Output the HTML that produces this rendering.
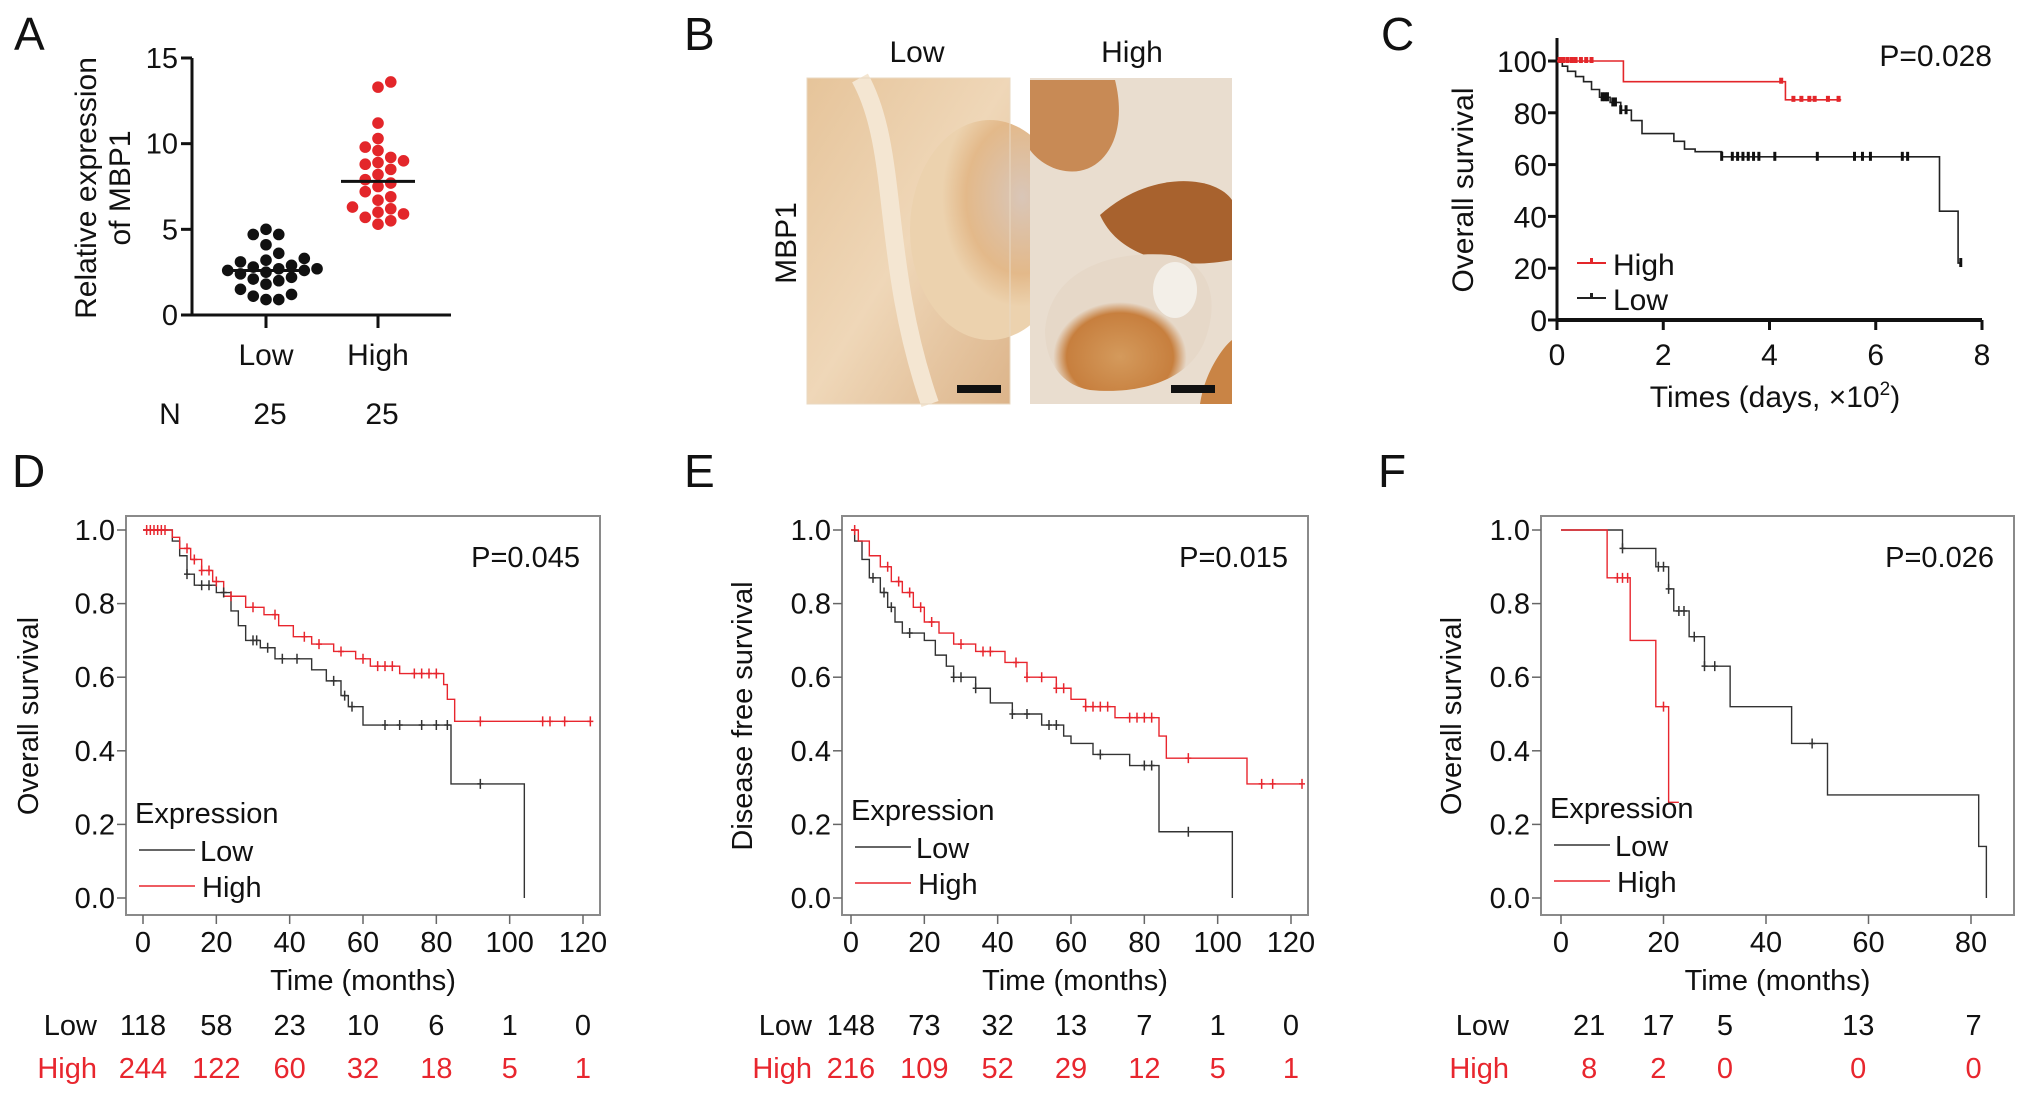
<!DOCTYPE html>
<html><head><meta charset="utf-8"><style>
html,body{margin:0;padding:0;background:#fff}
svg{display:block;font-family:"Liberation Sans",Arial,sans-serif}
</style></head><body>
<svg id="fig" width="2032" height="1099" viewBox="0 0 2032 1099" xmlns="http://www.w3.org/2000/svg">
<defs>
<radialGradient id="lowA" cx="0.7" cy="0.35" r="0.5"><stop offset="0" stop-color="#d9c6b8"/><stop offset="0.7" stop-color="#e3b98a"/><stop offset="1" stop-color="#ecd2ae"/></radialGradient>
<linearGradient id="lowB" x1="0" y1="0" x2="1" y2="1"><stop offset="0" stop-color="#e6c49a"/><stop offset="0.5" stop-color="#efd7b8"/><stop offset="1" stop-color="#dcb48a"/></linearGradient>
<radialGradient id="hiA" cx="0.45" cy="0.75" r="0.4"><stop offset="0" stop-color="#d49a5c"/><stop offset="0.8" stop-color="#c77f3e"/><stop offset="1" stop-color="#e6d8c8"/></radialGradient>
</defs>
<g id="panels"></g>
</svg>
<script>
// ---------- DATA ----------
const aCategories = ["Low","High"];
const aLowValues = [5.0,4.7,4.7,4.1,3.6,3.3,3.2,3.1,2.9,2.8,2.7,2.7,2.6,2.6,2.5,2.4,2.2,2.1,2.0,1.8,1.5,1.2,1.1,0.9,0.9];
const aHighValues = [13.6,13.3,11.2,10.3,9.8,9.6,9.2,9.0,8.9,8.8,8.5,8.2,7.9,7.7,7.5,7.2,6.9,6.7,6.3,6.2,6.0,5.9,5.7,5.5,5.3];
const aMeans = [2.6,7.8];
const aTicks = [0,5,10,15];
const aN = ["25","25"];

const cTicksY = [0,20,40,60,80,100];
const cTicksX = [0,2,4,6,8];
const cHighEvents = [[1.25,92],[4.3,85]];
const cHighEnd = 5.35;
const cHighCensor = [0.05,0.12,0.2,0.28,0.35,0.45,0.55,0.65,4.22,4.45,4.6,4.75,4.85,5.1,5.3];
const cLowEvents = [[0.1,98],[0.2,96],[0.35,94],[0.5,92],[0.65,89],[0.8,86],[1.0,84],[1.2,81],[1.4,77],[1.6,72],[2.2,69],[2.4,66],[2.6,65],[3.1,63],[7.2,42],[7.55,22]];
const cLowEnd = 7.62;
const cLowCensor = [0.85,0.9,0.95,1.05,1.1,1.2,1.3,3.1,3.3,3.4,3.5,3.6,3.7,3.8,4.1,4.9,5.6,5.75,5.9,6.5,6.6,7.6];

const dTicksX = [0,20,40,60,80,100,120];
const dTicksY = [0,0.2,0.4,0.6,0.8,1.0];
const dLowEvents = [[8,0.97],[10,0.93],[12,0.88],[14,0.85],[20,0.83],[24,0.78],[26,0.74],[28,0.70],[32,0.68],[36,0.65],[46,0.62],[50,0.59],[54,0.55],[56,0.52],[60,0.47],[84,0.31],[104,0]];
const dLowEnd = 104;
const dLowCensor = [12,16,18,22,30,31,34,38,42,52,55,57,66,70,76,80,83,92];
const dHighEvents = [[8,0.98],[10,0.95],[13,0.92],[16,0.89],[19,0.86],[22,0.82],[28,0.79],[33,0.77],[37,0.74],[41,0.71],[46,0.69],[52,0.67],[58,0.65],[62,0.63],[70,0.61],[82,0.58],[83,0.54],[85,0.48]];
const dHighEnd = 122;
const dHighCensor = [1,2,3,4,5,6,12,14,16,18,20,24,30,36,44,48,54,60,64,66,68,74,76,78,80,92,109,111,115,122];
const dRiskLow = ["118","58","23","10","6","1","0"];
const dRiskHigh = ["244","122","60","32","18","5","1"];

const eTicksX = [0,20,40,60,80,100,120];
const eLowEvents = [[1,0.97],[3,0.92],[5,0.87],[8,0.83],[10,0.79],[12,0.75],[14,0.72],[20,0.70],[23,0.66],[26,0.63],[28,0.60],[34,0.57],[38,0.53],[44,0.50],[52,0.47],[58,0.44],[60,0.42],[66,0.39],[76,0.36],[84,0.18],[104,0]];
const eLowEnd = 104;
const eLowCensor = [6,9,11,16,28,30,34,44,48,54,56,68,80,82,92];
const eHighEvents = [[2,0.97],[5,0.93],[8,0.90],[11,0.86],[14,0.83],[17,0.79],[20,0.75],[24,0.72],[28,0.69],[34,0.67],[42,0.64],[48,0.60],[56,0.57],[60,0.54],[64,0.52],[72,0.49],[84,0.44],[86,0.38],[108,0.31]];
const eHighEnd = 123;
const eHighCensor = [1,10,13,16,19,22,30,36,38,45,48,52,56,58,64,66,68,70,76,78,80,82,92,112,115,123];
const eRiskLow = ["148","73","32","13","7","1","0"];
const eRiskHigh = ["216","109","52","29","12","5","1"];

const fTicksX = [0,20,40,60,80];
const fLowEvents = [[12,0.95],[18.5,0.90],[21,0.84],[22,0.78],[25,0.71],[28,0.63],[33,0.52],[45,0.42],[52,0.28],[81.5,0.14],[83,0]];
const fLowEnd = 83;
const fLowCensor = [12,19,20,21,23,24,26,28,30,49];
const fHighEvents = [[9,0.87],[13.5,0.70],[18.5,0.52],[21,0.26]];
const fHighEnd = 23;
const fHighCensor = [11,12,13,20];
const fRiskLow = ["21","17","5","13","7"];
const fRiskHigh = ["8","2","0","0","0"];
const fRiskX = [5.5,19,32,58,80.5];

// ---------- HELPERS ----------
const NS = "http://www.w3.org/2000/svg";
const root = document.getElementById('panels');
function el(tag, attrs, parent, text){
  const e = document.createElementNS(NS, tag);
  for (const k in attrs) e.setAttribute(k, attrs[k]);
  if (text !== undefined) e.textContent = text;
  (parent || root).appendChild(e);
  return e;
}
function group(name){
  const g = el('g', {});
  
  
  return g;
}
function lin(d0,d1,r0,r1){ return v => r0 + (v-d0)/(d1-d0)*(r1-r0); }
function kmPath(events, end, xs, ys, top){
  let d = `M${xs(0)},${ys(top)}`;
  for (const [t,s] of events){ d += ` H${xs(t)} V${ys(s)}`; }
  d += ` H${xs(end)}`;
  return d;
}
function survAt(events, t, top){
  let s = top;
  for (const [et,es] of events){ if (et <= t) s = es; }
  return s;
}
function label(g, txt, x, y, size, anchor, fill, name){
  const t = el('text', {x:x, y:y, 'font-size':size, 'text-anchor':anchor||'start', fill:fill||'#111'}, g, txt);
  
  
  return t;
}

// ---------- PANEL LETTERS ----------
const letters = [["A",14,50],["B",684,50],["C",1381,50],["D",12,487],["E",684,487],["F",1378,487]];
const lg = group('panel-letters');
letters.forEach(l => label(lg, l[0], l[1], l[2], 46, 'start', '#111', 'panel-letter-' + l[0].toLowerCase()));

// ---------- PANEL A ----------
(function(){
  const g = group('panel-a-dot-plot');
  const ys = lin(0,15,315,58);
  const xc = [266,378];
  el('line',{x1:192,y1:ys(15),x2:192,y2:ys(0),stroke:'#111','stroke-width':3},g);
  el('line',{x1:181,y1:315,x2:451,y2:315,stroke:'#111','stroke-width':3},g);
  aTicks.forEach(v=>{
    el('line',{x1:181,y1:ys(v),x2:192,y2:ys(v),stroke:'#111','stroke-width':3},g);
    label(g, String(v), 178, ys(v)+10, 29, 'end', '#111', 'y-tick-label');
  });
  xc.forEach((x,i)=>{
    el('line',{x1:x,y1:315,x2:x,y2:328,stroke:'#111','stroke-width':3},g);
    label(g, aCategories[i], x, 365, 30, 'middle', '#111', 'x-category-label');
    label(g, aN[i], x+4, 424, 30, 'middle', '#111', 'n-count');
  });
  label(g, 'N', 170, 424, 30, 'middle', '#111', 'n-label');
  const yt = el('text',{transform:'translate(96,188) rotate(-90)','font-size':30,'text-anchor':'middle',fill:'#111'},g);
  
  
  el('tspan',{x:0,dy:0},yt,'Relative expression');
  el('tspan',{x:0,dy:34},yt,'of MBP1');
  function swarm(vals, cx, color, name){
    const placed = [];
    const r = 5.8;
    vals.slice().sort((a,b)=>a-b).forEach(v=>{
      const y = ys(v);
      let off = 0, k = 0;
      while (true){
        const cand = k===0?0:(k%2?1:-1)*Math.ceil(k/2)*2.2*r;
        const ok = placed.every(p => Math.hypot(p[0]-(cx+cand), p[1]-y) >= 2*r);
        if (ok){ off = cand; break; }
        k++;
      }
      placed.push([cx+off,y]);
      const c = el('circle',{cx:cx+off,cy:y,r:r,fill:color},g);
      
      
    });
  }
  swarm(aLowValues, xc[0], '#111', 'low-point');
  swarm(aHighValues, xc[1], '#e3262a', 'high-point');
  aMeans.forEach((m,i)=>{
    const ml = el('line',{x1:xc[i]-37,x2:xc[i]+37,y1:ys(m),y2:ys(m),stroke:'#111','stroke-width':3},g);
    
    
  });
})();

// ---------- PANEL B (histology) ----------
(function(){
  const g = group('panel-b-histology');
  label(g,'Low',917,62,30,'middle','#111','low-image-title');
  label(g,'High',1132,62,30,'middle','#111','high-image-title');
  const mt = el('text',{transform:'translate(796,243) rotate(-90)','font-size':30,'text-anchor':'middle',fill:'#111'},g,'MBP1');
  
  
  const li = el('g',{},g);  
  el('rect',{x:807,y:78,width:203,height:326,fill:'url(#lowB)'},li);
  el('ellipse',{cx:990,cy:230,rx:80,ry:110,fill:'url(#lowA)'},li);
  el('path',{d:'M860,78 C900,150 880,260 930,404',stroke:'#f4e6d2','stroke-width':18,fill:'none'},li);
  el('rect',{x:807,y:78,width:203,height:326,fill:'none',stroke:'#e9d8c2','stroke-width':1},li);
  el('rect',{x:957,y:385,width:44,height:8,fill:'#111'},li);
  const hi = el('g',{},g);  
  el('rect',{x:1030,y:78,width:202,height:326,fill:'#e9ddcf'},hi);
  el('path',{d:'M1030,80 L1115,80 C1130,140 1100,180 1060,170 C1040,165 1030,150 1030,150 Z',fill:'#c88a55'},hi);
  el('path',{d:'M1100,215 C1150,170 1215,175 1232,200 L1232,260 C1180,270 1120,260 1100,215 Z',fill:'#a8622e'},hi);
  el('path',{d:'M1045,330 C1050,270 1110,250 1170,255 C1210,262 1220,300 1205,340 C1190,380 1140,395 1090,390 C1060,385 1045,360 1045,330 Z',fill:'url(#hiA)'},hi);
  el('ellipse',{cx:1175,cy:290,rx:22,ry:28,fill:'#f3efe8'},hi);
  el('path',{d:'M1200,404 C1205,370 1225,345 1232,340 L1232,404 Z',fill:'#c98445'},hi);
  el('rect',{x:1171,y:385,width:44,height:8,fill:'#111'},hi);
})();

// ---------- PANEL C ----------
(function(){
  const g = group('panel-c-km-plot');
  const xs = lin(0,8,1557,1982), ys = lin(0,100,320,61);
  el('line',{x1:1557,y1:38,x2:1557,y2:321,stroke:'#111','stroke-width':3},g);
  el('line',{x1:1556,y1:320,x2:1982,y2:320,stroke:'#111','stroke-width':4},g);
  cTicksY.forEach(v=>{
    el('line',{x1:1548,y1:ys(v),x2:1557,y2:ys(v),stroke:'#111','stroke-width':3},g);
    label(g,String(v),1547,ys(v)+11,30,'end','#111','y-tick-label');
  });
  cTicksX.forEach(v=>{
    el('line',{x1:xs(v),y1:320,x2:xs(v),y2:330,stroke:'#111','stroke-width':3},g);
    label(g,String(v),xs(v),365,30,'middle','#111','x-tick-label');
  });
  const xt = el('text',{x:1775,y:407,'font-size':30,'text-anchor':'middle',fill:'#111'},g);
   
  xt.appendChild(document.createTextNode('Times (days, \u00d710'));
  el('tspan',{dy:-12,'font-size':19},xt,'2');
  el('tspan',{dy:12},xt,')');
  const yt = el('text',{transform:'translate(1473,190) rotate(-90)','font-size':30,'text-anchor':'middle',fill:'#111'},g,'Overall survival');
   
  label(g,'P=0.028',1992,66,30,'end','#111','p-value');
  const lo = el('path',{d:kmPath(cLowEvents,cLowEnd,xs,ys,100),fill:'none',stroke:'#222','stroke-width':1.6},g);
   
  const hi = el('path',{d:kmPath(cHighEvents,cHighEnd,xs,ys,100),fill:'none',stroke:'#e3262a','stroke-width':1.6},g);
   
  cLowCensor.forEach(t=>{ const y=ys(survAt(cLowEvents,t,100)); const m=el('rect',{x:xs(t)-1.5,y:y-5,width:3,height:9,fill:'#111'},g);   });
  cHighCensor.forEach(t=>{ const y=ys(survAt(cHighEvents,t,100)); const m=el('rect',{x:xs(t)-2,y:y-4,width:4,height:6,fill:'#e3262a'},g);   });
  const leg = el('g',{},g);  
  el('line',{x1:1577,x2:1606,y1:263,y2:263,stroke:'#e3262a','stroke-width':2},leg);
  el('rect',{x:1590,y:258,width:3,height:5,fill:'#e3262a'},leg);
  label(leg,'High',1613,275,30,'start','#111','legend-high');
  el('line',{x1:1577,x2:1606,y1:298,y2:298,stroke:'#222','stroke-width':2},leg);
  el('rect',{x:1590,y:293,width:3,height:5,fill:'#222'},leg);
  label(leg,'Low',1613,310,30,'start','#111','legend-low');
})();

// ---------- KM BOX PANELS D/E/F ----------
function kmBox(opt){
  const g = group(opt.name);
  const xs = lin(opt.xd[0],opt.xd[1],opt.xr[0],opt.xr[1]);
  const ys = lin(0,1,898,530);
  el('rect',{x:opt.box[0],y:516,width:opt.box[1]-opt.box[0],height:399,fill:'none',stroke:'#8a8a8a','stroke-width':2},g);
  dTicksY.forEach(v=>{
    el('line',{x1:opt.box[0]-9,y1:ys(v),x2:opt.box[0],y2:ys(v),stroke:'#666','stroke-width':1.5},g);
    label(g,v.toFixed(1),opt.box[0]-11,ys(v)+10,29,'end','#111','y-tick-label');
  });
  opt.ticks.forEach(v=>{
    el('line',{x1:xs(v),y1:915,x2:xs(v),y2:924,stroke:'#666','stroke-width':1.5},g);
    label(g,String(v),xs(v),952,29,'middle','#111','x-tick-label');
  });
  label(g,'Time (months)',(opt.box[0]+opt.box[1])/2,990,29,'middle','#111','x-axis-title');
  const yt = el('text',{transform:`translate(${opt.ytx},716) rotate(-90)`,'font-size':29,'text-anchor':'middle',fill:'#111'},g,opt.ytitle);
   
  label(g,opt.p,opt.box[1]-20,567,29,'end','#111','p-value');
  const lo = el('path',{d:kmPath(opt.low,opt.lowEnd,xs,ys,1),fill:'none',stroke:'#333','stroke-width':1.4},g);
   
  const hi = el('path',{d:kmPath(opt.high,opt.highEnd,xs,ys,1),fill:'none',stroke:'#e8262e','stroke-width':1.4},g);
   
  function cens(arr, ev, col, nm){
    arr.forEach(t=>{
      const x=xs(t), y=ys(survAt(ev,t,1));
      const m=el('path',{d:`M${x},${y-5}V${y+5}M${x-3},${y}H${x+3}`,stroke:col,'stroke-width':1.5},g);
       
    });
  }
  cens(opt.lowC,opt.low,'#333','low-censor');
  cens(opt.highC,opt.high,'#e8262e','high-censor');
  const leg = el('g',{},g);  
  const lx = opt.box[0]+9;
  label(leg,'Expression',lx,opt.legY,29,'start','#111','legend-title');
  el('line',{x1:lx+4,x2:lx+60,y1:opt.legY+27,y2:opt.legY+27,stroke:'#333','stroke-width':1.6},leg);
  label(leg,'Low',lx+65,opt.legY+38,29,'start','#111','legend-low');
  el('line',{x1:lx+4,x2:lx+60,y1:opt.legY+63,y2:opt.legY+63,stroke:'#e8262e','stroke-width':1.6},leg);
  label(leg,'High',lx+67,opt.legY+74,29,'start','#111','legend-high');
  const rx = opt.riskX || opt.ticks;
  label(g,'Low',opt.riskLabelX,1035,29,'end','#111','risk-low-label');
  label(g,'High',opt.riskLabelX,1078,29,'end','#e8262e','risk-high-label');
  opt.riskLow.forEach((v,i)=>label(g,v,xs(rx[i]),1035,29,'middle','#111','risk-low-count'));
  opt.riskHigh.forEach((v,i)=>label(g,v,xs(rx[i]),1078,29,'middle','#e8262e','risk-high-count'));
}
kmBox({name:'panel-d-km-overall',box:[126,600],xd:[0,120],xr:[143,583],ticks:dTicksX,ytx:38,ytitle:'Overall survival',p:'P=0.045',
  low:dLowEvents,lowEnd:dLowEnd,lowC:dLowCensor,high:dHighEvents,highEnd:dHighEnd,highC:dHighCensor,legY:823,riskLabelX:97,riskLow:dRiskLow,riskHigh:dRiskHigh});
kmBox({name:'panel-e-km-disease-free',box:[842,1308],xd:[0,120],xr:[851,1291],ticks:eTicksX,ytx:752,ytitle:'Disease free survival',p:'P=0.015',
  low:eLowEvents,lowEnd:eLowEnd,lowC:eLowCensor,high:eHighEvents,highEnd:eHighEnd,highC:eHighCensor,legY:820,riskLabelX:812,riskLow:eRiskLow,riskHigh:eRiskHigh});
kmBox({name:'panel-f-km-overall',box:[1541,2014],xd:[0,80],xr:[1561,1971],ticks:fTicksX,ytx:1461,ytitle:'Overall survival',p:'P=0.026',
  low:fLowEvents,lowEnd:fLowEnd,lowC:fLowCensor,high:fHighEvents,highEnd:fHighEnd,highC:fHighCensor,legY:818,riskLabelX:1509,riskLow:fRiskLow,riskHigh:fRiskHigh,riskX:fRiskX});
</script>
</body></html>
